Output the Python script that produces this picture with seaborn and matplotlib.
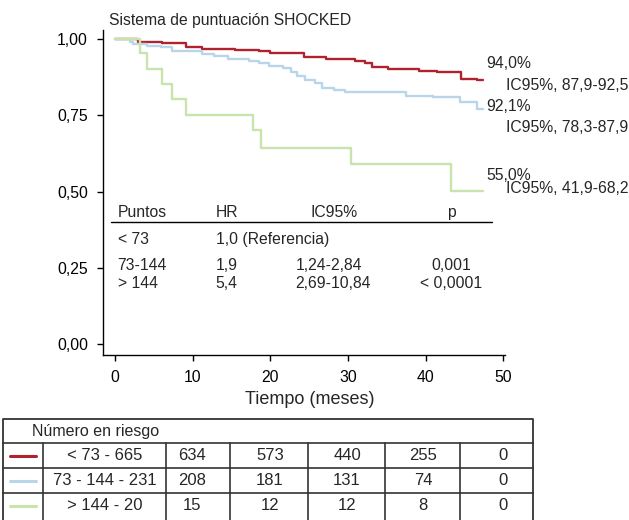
import numpy as np
import pandas as pd
import matplotlib
matplotlib.use("Agg")
import matplotlib.pyplot as plt
import seaborn as sns

sns.set_style("ticks")
plt.rcParams['font.family'] = ['Liberation Sans', 'DejaVu Sans']

# curvas de supervivencia
groups = ["< 73", "73-144", "> 144"]
colors = ["#B0222E", "#B9D5EA", "#C8E4AC"]

t_low = [0, 3.0, 6.1, 9.2, 11.2, 15.4, 18.5, 20.0, 24.3, 27.1, 30.9, 32.2, 33.1, 35.1, 39.1, 41.5, 44.6, 46.6, 47.4]
s_low = [1.0, 0.991, 0.985, 0.974, 0.968, 0.964, 0.959, 0.953, 0.942, 0.934, 0.928, 0.920, 0.907, 0.902, 0.896, 0.891, 0.869, 0.864, 0.864]

t_mid = [0, 1.9, 2.3, 4.1, 5.9, 7.4, 11.2, 12.7, 14.5, 17.2, 18.5, 19.8, 21.6, 22.7, 23.4, 24.5, 25.8, 26.7, 28.2, 29.6, 37.5, 40.9, 44.4, 46.6, 47.4]
s_mid = [1.0, 0.991, 0.983, 0.977, 0.972, 0.959, 0.951, 0.944, 0.933, 0.928, 0.920, 0.912, 0.904, 0.890, 0.877, 0.866, 0.857, 0.838, 0.833, 0.826, 0.814, 0.811, 0.793, 0.772, 0.772]

t_high = [0, 3.2, 4.1, 6.1, 7.3, 9.1, 17.8, 18.8, 30.4, 43.2, 47.4]
s_high = [1.0, 0.953, 0.901, 0.853, 0.802, 0.751, 0.700, 0.642, 0.589, 0.502, 0.502]

surv_text = ["94,0%", "92,1%", "55,0%"]
ci_text = ["IC95%, 87,9-92,5", "IC95%, 78,3-87,9", "IC95%, 41,9-68,2"]

# tabla de HR
hr_header = ["Puntos", "HR", "IC95%", "p"]
hr_points = ["< 73", "73-144", "> 144"]
hr_values = ["1,0 (Referencia)", "1,9", "5,4"]
hr_ci = ["", "1,24-2,84", "2,69-10,84"]
hr_p = ["", "0,001", "< 0,0001"]

# numero en riesgo
risk_labels = ["< 73 - 665", "73 - 144 - 231", "> 144 - 20"]
risk_low = [634, 573, 440, 255, 0]
risk_mid = [208, 181, 131, 74, 0]
risk_high = [15, 12, 12, 8, 0]

yticks = [0, 0.25, 0.5, 0.75, 1.0]
ytick_labels = ["0,00", "0,25", "0,50", "0,75", "1,00"]
xticks = [0, 10, 20, 30, 40, 50]

df = pd.concat([
    pd.DataFrame({"time": t_low, "surv": s_low, "group": groups[0]}),
    pd.DataFrame({"time": t_mid, "surv": s_mid, "group": groups[1]}),
    pd.DataFrame({"time": t_high, "surv": s_high, "group": groups[2]}),
])

fig = plt.figure(figsize=(6.29, 5.20), dpi=100)
ax = fig.add_axes([102.7 / 629, 1 - 355 / 520, 402.3 / 629, 325 / 520])

sns.lineplot(data=df, x="time", y="surv", hue="group", hue_order=groups,
             palette=colors, drawstyle="steps-post", estimator=None,
             linewidth=1.7, legend=False, ax=ax)

ax.set_xlim(-1.58, 50.2)
ax.set_ylim(-0.035, 1.029)
ax.set_xticks(xticks)
ax.set_yticks(yticks)
ax.set_yticklabels(ytick_labels)
ax.tick_params(direction="out", length=4.5, width=1, labelsize=11.3, pad=6, colors="black")
for s in ["top", "right"]:
    ax.spines[s].set_visible(False)
for s in ["left", "bottom"]:
    ax.spines[s].set_color("black")
    ax.spines[s].set_linewidth(1)
ax.set_xlabel("Tiempo (meses)", fontsize=13)
ax.set_ylabel("")
ax.xaxis.set_label_coords((309.3 - 102.7) / 402.3, (355 - 400) / 325)
ax.xaxis.label.set_va("center")

# capa en pixeles para textos y tablas
ov = fig.add_axes([0, 0, 1, 1])
ov.set_xlim(0, 629)
ov.set_ylim(520, 0)
ov.axis("off")
ov.patch.set_alpha(0)

fs = 11.3
ov.text(108.9, 20.7, "Sistema de puntuación SHOCKED", fontsize=fs, va="center")

for txt, ci, yp, yc in zip(surv_text, ci_text, [64, 106.7, 175], [85.7, 127, 188.5]):
    ov.text(486.7, yp, txt, fontsize=fs, va="center")
    ov.text(506, yc, ci, fontsize=fs, va="center")

# tabla HR
ov.text(117.5, 212.3, hr_header[0], fontsize=fs, va="center")
ov.text(215.6, 212.3, hr_header[1], fontsize=fs, va="center")
ov.text(333.7, 212.3, hr_header[2], fontsize=fs, va="center", ha="center")
ov.text(451.3, 212.3, hr_header[3], fontsize=fs, va="center", ha="center")
ov.plot([111.3, 491.6], [221.7, 221.7], color="black", lw=1)
for yy, pt, hr, ci, p in zip([239.3, 265, 284], hr_points, hr_values, hr_ci, hr_p):
    ov.text(117.5, yy, pt, fontsize=fs, va="center")
    ov.text(215.6, yy, hr, fontsize=fs, va="center")
    ov.text(295.4, yy, ci, fontsize=fs, va="center")
    ov.text(451, yy, p, fontsize=fs, va="center", ha="center")

# tabla numero en riesgo
lc = "#333333"
x0, x1 = 2.7, 533.3
ytop, yhead = 419, 443.3
row_lines = [468.3, 493.3]
ybot = 521
col_lines = [43, 166, 230, 308, 385, 460]
ov.plot([x0, x1, x1, x0, x0], [ybot, ybot, ytop, ytop, ybot], color=lc, lw=1.3, clip_on=False)
for yy in [yhead] + row_lines:
    ov.plot([x0, x1], [yy, yy], color=lc, lw=1.2)
for xx in col_lines:
    ov.plot([xx, xx], [yhead, ybot], color=lc, lw=1.2)
ov.text(31.7, 431.5, "Número en riesgo", fontsize=11.5, va="center")
row_y = [455.8, 480.8, 505.8]
count_x = [192, 270, 347, 423, 503]
for yy, lab, col, counts in zip(row_y, risk_labels, colors, [risk_low, risk_mid, risk_high]):
    ov.plot([10, 36], [yy, yy], color=col, lw=2.2)
    ov.text(104.5, yy, lab, fontsize=12, va="center", ha="center")
    for xx, c in zip(count_x, counts):
        ov.text(xx, yy, str(c), fontsize=12, va="center", ha="center")

fig.savefig("out.png", dpi=100)
